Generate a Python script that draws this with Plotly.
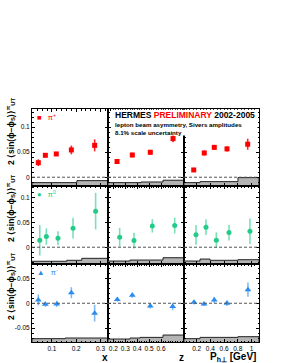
import plotly.graph_objects as go
from plotly.subplots import make_subplots

# ---------------- data ----------------
# pi+
x_pip = [0.044, 0.073, 0.118, 0.180, 0.276]
ax_pip = [0.0290, 0.0437, 0.0464, 0.0544, 0.0635]
ex_pip = [0.0067, 0.0040, 0.0040, 0.0087, 0.0120]
z_pip = [0.231, 0.359, 0.510, 0.701]
az_pip = [0.0313, 0.0443, 0.0497, 0.0770]
ez_pip = [0.0040, 0.0047, 0.0050, 0.0074]
p_pip = [0.157, 0.311, 0.457, 0.643, 0.945]
ap_pip = [0.0145, 0.0483, 0.0595, 0.0565, 0.0658]
ep_pip = [0.0040, 0.0050, 0.0050, 0.0050, 0.0110]
# pi0
x_pi0 = [0.050, 0.077, 0.125, 0.187, 0.280]
ax_pi0 = [0.0142, 0.0216, 0.0182, 0.0385, 0.0730]
ex_pi0 = [0.0310, 0.0166, 0.0140, 0.0210, 0.0370]
z_pi0 = [0.253, 0.373, 0.527, 0.715]
az_pi0 = [0.0203, 0.0135, 0.0432, 0.0440]
ez_pi0 = [0.0190, 0.0160, 0.0135, 0.0160]
p_pi0 = [0.190, 0.336, 0.487, 0.672, 0.978]
ap_pi0 = [0.0250, 0.0405, 0.0142, 0.0297, 0.0324]
ep_pi0 = [0.0200, 0.0160, 0.0160, 0.0160, 0.0260]
# pi-
x_pim = [0.044, 0.073, 0.120, 0.180, 0.276]
ax_pim = [0.0067, -0.0020, -0.0013, 0.0213, -0.0200]
ex_pim = [0.0110, 0.0050, 0.0060, 0.0110, 0.0167]
z_pim = [0.233, 0.359, 0.510, 0.698]
az_pim = [0.0073, 0.0160, -0.0053, -0.0067]
ez_pim = [0.0040, 0.0053, 0.0053, 0.0073]
p_pim = [0.161, 0.307, 0.457, 0.643, 0.949]
ap_pim = [0.0020, -0.0013, 0.0067, 0.0000, 0.0273]
ep_pim = [0.0047, 0.0040, 0.0060, 0.0053, 0.0143]

# systematic bands (bin edges, heights)
band_edges = {
    (1, 1): [0.018, 0.203, 0.331], (1, 2): [0.155, 0.432, 0.617, 0.793], (1, 3): [0.015, 0.249, 0.803, 1.11],
    (2, 1): [0.018, 0.161, 0.223, 0.331], (2, 2): [0.155, 0.340, 0.617, 0.793], (2, 3): [0.015, 0.249, 0.395, 0.803, 1.11],
    (3, 1): [0.018, 0.154, 0.331], (3, 2): [0.155, 0.340, 0.424, 0.617, 0.793], (3, 3): [0.015, 0.249, 0.803, 1.11],
}
band_heights = {
    (1, 1): [0.0067, 0.0107], (1, 2): [0.0067, 0.0080, 0.0115], (1, 3): [0.0067, 0.0087, 0.0167],
    (2, 1): [0.0055, 0.0075, 0.0115], (2, 2): [0.0060, 0.0080, 0.0127], (2, 3): [0.0060, 0.0100, 0.0075, 0.0087],
    (3, 1): [0.0067, 0.0080], (3, 2): [0.0060, 0.0080, 0.0093, 0.0140], (3, 3): [0.0067, 0.0093, 0.0107],
}

x_ranges = [[0.018, 0.331], [0.155, 0.793], [0.015, 1.11]]
y_ranges = [[-0.0175, 0.136], [-0.034, 0.124], [-0.078, 0.079]]
x_tickvals = [[0.1, 0.2, 0.3], [0.2, 0.3, 0.4, 0.5, 0.6], [0.2, 0.4, 0.6, 0.8, 1.0]]
x_ticktext = [["0.1", "0.2", "0.3"], ["0.2", "0.3", "0.4", "0.5", "0.6"], ["0.2", "0.4", "0.6", "0.8", "1"]]
x_minor = [0.02, 0.02, 0.05]
y_tickvals = [[0, 0.05, 0.1], [0, 0.05, 0.1], [-0.05, 0, 0.05]]
y_ticktext = [["0", "0.05", "0.1"], ["0", "0.05", "0.1"], ["-0.05", "0", "0.05"]]

rows_data = [
    dict(name="π+", color="#ff0000", ecolor="rgba(255,0,0,0.85)", symbol="square", size=5,
         sets=[(x_pip, ax_pip, ex_pip), (z_pip, az_pip, ez_pip), (p_pip, ap_pip, ep_pip)]),
    dict(name="π0", color="#22cc88", ecolor="rgba(34,204,136,0.6)", symbol="circle", size=5,
         sets=[(x_pi0, ax_pi0, ex_pi0), (z_pi0, az_pi0, ez_pi0), (p_pi0, ap_pi0, ep_pi0)]),
    dict(name="π-", color="#2a8cf0", ecolor="rgba(42,140,240,0.6)", symbol="triangle-up", size=6,
         sets=[(x_pim, ax_pim, ex_pim), (z_pim, az_pim, ez_pim), (p_pim, ap_pim, ep_pim)]),
]

W, H = 281, 363
col_px = [32, 108, 184, 259]
row_px = [109, 186, 264, 342]

fig = make_subplots(rows=3, cols=3, horizontal_spacing=0, vertical_spacing=0)
FONT = "Liberation Sans, Arial, sans-serif"

for r in range(3):
    for c in range(3):
        rd = rows_data[r]
        xs, ys, es = rd["sets"][c]
        ymin = y_ranges[r][0]
        edges = band_edges[(r + 1, c + 1)]
        hts = band_heights[(r + 1, c + 1)]
        px, py = [edges[0]], [ymin]
        for i, h in enumerate(hts):
            px += [edges[i], edges[i + 1]]
            py += [ymin + h, ymin + h]
        px += [edges[-1]]
        py += [ymin]
        fig.add_trace(go.Scatter(x=px, y=py, mode="lines", fill="toself", fillcolor="#b4b4b4",
                                 line=dict(color="#222", width=1), hoverinfo="skip", showlegend=False),
                      row=r + 1, col=c + 1)
        fig.add_trace(go.Scatter(x=xs, y=ys, mode="markers",
                                 marker=dict(symbol=rd["symbol"], size=rd["size"], color=rd["color"]),
                                 error_y=dict(type="data", array=es, color=rd["ecolor"], thickness=1.6, width=0),
                                 showlegend=False),
                      row=r + 1, col=c + 1)
        idx = r * 3 + c + 1
        sfx = "" if idx == 1 else str(idx)
        fig.update_layout(**{
            "xaxis" + sfx: dict(domain=[col_px[c] / W, col_px[c + 1] / W], range=x_ranges[c], automargin=False,
                                showline=True, linecolor="black", linewidth=1, mirror="allticks",
                                ticks="inside", ticklen=3, tickcolor="black", showgrid=False, zeroline=False,
                                tickvals=x_tickvals[c], ticktext=x_ticktext[c], showticklabels=(r == 2),
                                tickfont=dict(family=FONT, size=6.5, color="black"),
                                minor=dict(dtick=x_minor[c], ticks="inside", ticklen=1.5, tickcolor="black", showgrid=False)),
            "yaxis" + sfx: dict(domain=[1 - row_px[r + 1] / H, 1 - row_px[r] / H], range=y_ranges[r], automargin=False,
                                showline=True, linecolor="black", linewidth=1, mirror="allticks",
                                ticks="inside", ticklen=3, tickcolor="black", showgrid=False, zeroline=False,
                                tickvals=y_tickvals[r], ticktext=y_ticktext[r], showticklabels=(c == 0),
                                tickfont=dict(family=FONT, size=6.5, color="black"),
                                minor=dict(dtick=0.01, ticks="inside", ticklen=1.5, tickcolor="black", showgrid=False)),
        })
        xr = "x" + sfx
        yr = "y" + sfx
        fig.add_shape(type="line", xref=xr + " domain", yref=yr, x0=0, x1=1, y0=0, y1=0,
                      line=dict(color="#555", width=1, dash="3px,2px"), layer="above")

# white box behind the title text
fig.add_shape(type="rect", xref="paper", yref="paper", x0=112 / W, x1=257.5 / W,
              y0=1 - 135.5 / H, y1=1 - 109.7 / H, fillcolor="white", line=dict(width=0), layer="above")

ann = []
ann.append(dict(x=113 / W, y=1 - 114.5 / H, xref="paper", yref="paper", xanchor="left", yanchor="middle",
                text="HERMES <span style='color:#ff0000'>PRELIMINARY</span> 2002-2005",
                font=dict(family=FONT, size=8.5, color="black", weight="bold"), showarrow=False))
ann.append(dict(x=113 / W, y=1 - 124 / H, xref="paper", yref="paper", xanchor="left", yanchor="middle",
                text="lepton beam asymmetry, Sivers amplitudes",
                font=dict(family=FONT, size=6.2, color="black", weight="bold"), showarrow=False))
ann.append(dict(x=113 / W, y=1 - 132 / H, xref="paper", yref="paper", xanchor="left", yanchor="middle",
                text="8.1% scale uncertainty",
                font=dict(family=FONT, size=6.2, color="black", weight="bold"), showarrow=False))

legend_glyph = ["■", "●", "▲"]
legend_lab = ["π<sup>+</sup>", "π<sup>0</sup>", "π<sup>-</sup>"]
for r in range(3):
    col = rows_data[r]["color"]
    ann.append(dict(x=35 / W, y=1 - (row_px[r] + 8) / H, xref="paper", yref="paper", xanchor="left", yanchor="middle",
                    text=f"<span style='color:{col}'>{legend_glyph[r]}</span>   <span style='color:{col}'>{legend_lab[r]}</span>",
                    font=dict(family=FONT, size=7.5), showarrow=False))
    ann.append(dict(x=10 / W, y=1 - (row_px[r] + 22) / H, xref="paper", yref="paper", xanchor="center", yanchor="middle",
                    textangle=-90,
                    text="2 ⟨sin(ϕ−ϕ<sub>S</sub>)⟩<sup>π</sup><sub>UT</sub>",
                    font=dict(family=FONT, size=8.5, color="black", weight="bold"), showarrow=False))

ann.append(dict(x=105 / W, y=1 - 357 / H, xref="paper", yref="paper", xanchor="center", yanchor="middle",
                text="x", font=dict(family=FONT, size=10, color="black", weight="bold"), showarrow=False))
ann.append(dict(x=181 / W, y=1 - 357 / H, xref="paper", yref="paper", xanchor="center", yanchor="middle",
                text="z", font=dict(family=FONT, size=10, color="black", weight="bold"), showarrow=False))
ann.append(dict(x=258 / W, y=1 - 357 / H, xref="paper", yref="paper", xanchor="right", yanchor="middle",
                text="P<sub>h⊥</sub> [GeV]", font=dict(family=FONT, size=10, color="black", weight="bold"), showarrow=False))

fig.update_layout(width=W, height=H, margin=dict(l=0, r=0, t=0, b=0, pad=0),
                  paper_bgcolor="white", plot_bgcolor="white", annotations=ann, showlegend=False)

fig.write_html("out.html", config={"displayModeBar": False},
               post_script="document.body.style.margin='0px';document.body.style.overflow='hidden';")
